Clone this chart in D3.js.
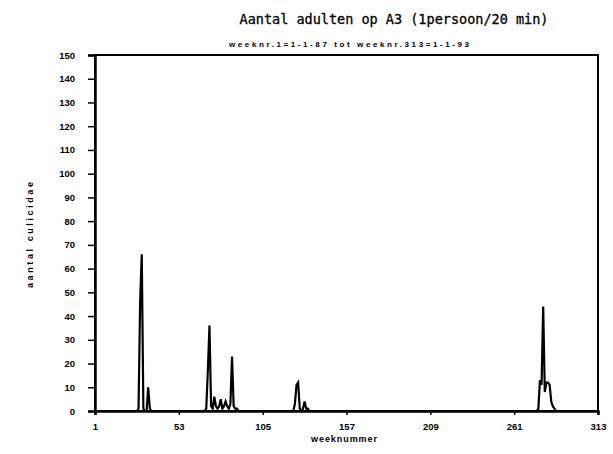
<!DOCTYPE html>
<html>
<head>
<meta charset="utf-8">
<script src="https://cdn.jsdelivr.net/npm/d3@7"></script>
<style>
  body { margin: 0; background: #fff; }
  text { fill: #000; }
</style>
</head>
<body>
<div id="chart"></div>
<script>
const width = 613;
const height = 454;

// weeks with a non-zero count (all other weeks are 0)
const weeks = [28, 29, 30, 31, 34, 35,
    70, 71, 72, 73, 74, 75, 76, 77, 78, 79, 80, 81, 82, 83, 84, 85, 86, 87, 88, 89,
    125, 126, 127, 128, 130, 131, 132, 133,
    276, 277, 278, 279, 280, 281, 282, 283, 284, 285, 286];
const counts = [1, 46, 66, 1, 10, 1,
    1, 17, 36, 2, 1, 6, 2, 1, 2, 5, 1, 2, 4, 2, 1, 3, 23, 2, 1, 1,
    3, 11, 12, 1, 1, 4, 1, 1,
    1, 13, 11, 44, 8, 12, 12, 11, 4, 2, 1];

const xTicks = [1, 53, 105, 157, 209, 261, 313];
const yTicks = d3.range(0, 151, 10);

const lookup = new Map(weeks.map((w, i) => [w, counts[i]]));
const series = d3.range(1, 314).map(w => ({ week: w, value: lookup.get(w) || 0 }));

const margin = { top: 55, right: 15, bottom: 43, left: 95 };

const svg = d3.select('#chart')
    .append('svg')
    .attr('width', width)
    .attr('height', height);

const xScale = d3.scaleLinear()
    .domain([1, 313])
    .range([margin.left, width - margin.right]);

const yScale = d3.scaleLinear()
    .domain([0, 150])
    .range([height - margin.bottom, margin.top]);

// frame
svg.append('rect')
    .attr('x', margin.left)
    .attr('y', margin.top)
    .attr('width', width - margin.right - margin.left)
    .attr('height', height - margin.bottom - margin.top)
    .attr('fill', 'none')
    .attr('stroke', '#000')
    .attr('stroke-width', 2);

// Y axis
const yAxis = svg.append('g')
    .attr('transform', `translate(${margin.left}, 0)`)
    .call(d3.axisLeft(yScale).tickValues(yTicks).tickSize(7).tickPadding(13));

// X axis
const xAxis = svg.append('g')
    .attr('transform', `translate(0, ${height - margin.bottom})`)
    .call(d3.axisBottom(xScale).tickValues(xTicks).tickSize(4).tickPadding(8));

[yAxis, xAxis].forEach(ax => {
    ax.select('.domain').attr('stroke-width', 2.5);
    ax.selectAll('.tick line').attr('stroke-width', 1.5);
    ax.selectAll('text')
        .attr('font-family', 'Liberation Sans, Arial, sans-serif')
        .attr('font-weight', 'bold')
        .attr('font-size', 9.5);
});

// data line
const line = d3.line()
    .x(d => xScale(d.week))
    .y(d => yScale(d.value));

svg.append('path')
    .datum(series)
    .attr('d', line)
    .attr('fill', 'none')
    .attr('stroke', '#000')
    .attr('stroke-width', 2.2)
    .attr('stroke-linejoin', 'miter');

// titles
svg.append('text')
    .attr('x', 394)
    .attr('y', 24)
    .attr('text-anchor', 'middle')
    .attr('font-family', 'DejaVu Sans Mono, monospace')
    .attr('font-size', 13.5)
    .attr('stroke', '#000')
    .attr('stroke-width', 0.3)
    .text('Aantal adulten op A3 (1persoon/20 min)');

svg.append('text')
    .attr('x', 349)
    .attr('y', 47)
    .attr('text-anchor', 'middle')
    .attr('font-family', 'Liberation Sans, Arial, sans-serif')
    .attr('font-weight', 'bold')
    .attr('font-size', 8)
    .attr('textLength', 240)
    .text('weeknr.1=1-1-87 tot weeknr.313=1-1-93');

svg.append('text')
    .attr('transform', `translate(33, 235) rotate(-90)`)
    .attr('text-anchor', 'middle')
    .attr('font-family', 'Liberation Sans, Arial, sans-serif')
    .attr('font-weight', 'bold')
    .attr('font-size', 9)
    .attr('textLength', 106)
    .text('aantal culicidae');

svg.append('text')
    .attr('x', 344)
    .attr('y', 442)
    .attr('text-anchor', 'middle')
    .attr('font-family', 'Liberation Sans, Arial, sans-serif')
    .attr('font-weight', 'bold')
    .attr('font-size', 9)
    .attr('textLength', 66)
    .text('weeknummer');
</script>
</body>
</html>
